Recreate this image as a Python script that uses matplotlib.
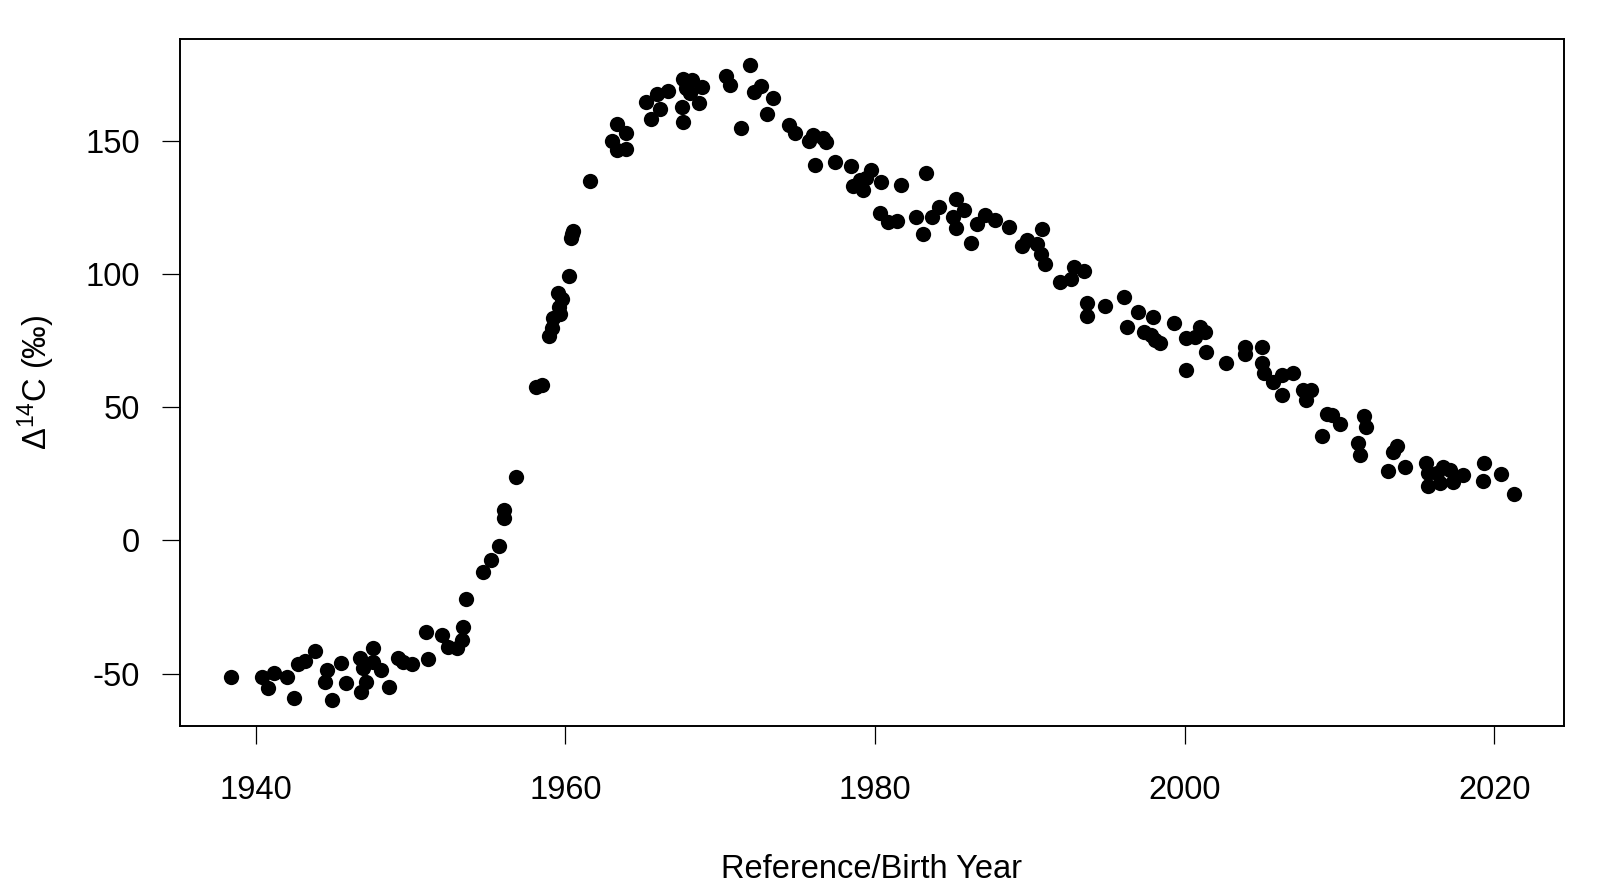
import matplotlib
matplotlib.use("Agg")
import matplotlib.pyplot as plt

plt.rcParams['font.family'] = ['Liberation Sans', 'DejaVu Sans']
plt.rcParams['mathtext.fontset'] = 'custom'
plt.rcParams['mathtext.rm'] = 'Liberation Sans'
plt.rcParams['mathtext.it'] = 'Liberation Sans'
plt.rcParams['mathtext.bf'] = 'Liberation Sans'

years = [
    1938.4, 1940.4, 1940.8, 1941.2, 1942.0, 1942.5, 1942.7, 1943.2, 1943.8, 1944.5,
    1944.6, 1944.9, 1945.5, 1945.8, 1946.7, 1946.8, 1946.9, 1947.1, 1947.6, 1947.6,
    1948.1, 1948.6, 1949.2, 1949.5, 1950.1, 1951.0, 1951.1, 1952.0, 1952.4, 1953.0,
    1953.3, 1953.4, 1953.6, 1954.7, 1955.2, 1955.7, 1956.0, 1956.05, 1956.8, 1958.1,
    1958.5, 1958.95, 1959.1, 1959.2, 1959.5, 1959.6, 1959.65, 1959.8, 1960.2, 1960.35,
    1960.45, 1960.5, 1961.6, 1963.0, 1963.3, 1963.35, 1963.9, 1963.9, 1965.2, 1965.5,
    1965.9, 1966.1, 1966.6, 1967.55, 1967.6, 1967.6, 1967.8, 1968.05, 1968.15, 1968.65,
    1968.85, 1970.35, 1970.6, 1971.35, 1971.95, 1972.15, 1972.65, 1973.0, 1973.4, 1974.45,
    1974.8, 1975.7, 1976.0, 1976.1, 1976.65, 1976.85, 1977.4, 1978.45, 1978.6, 1979.0,
    1979.2, 1979.4, 1979.75, 1980.3, 1980.4, 1980.85, 1981.4, 1981.65, 1982.65, 1983.1,
    1983.3, 1983.7, 1984.15, 1985.0, 1985.2, 1985.2, 1985.75, 1986.2, 1986.6, 1987.1,
    1987.75, 1988.65, 1989.5, 1989.8, 1990.45, 1990.7, 1990.75, 1991.0, 1991.95, 1992.65,
    1992.85, 1993.5, 1993.7, 1993.7, 1994.85, 1996.1, 1996.3, 1997.0, 1997.4, 1997.85,
    1997.95, 1998.05, 1998.4, 1999.3, 2000.1, 2000.1, 2000.65, 2001.0, 2001.3, 2001.4,
    2002.65, 2003.9, 2003.9, 2005.0, 2005.0, 2005.1, 2005.7, 2006.25, 2006.3, 2007.0,
    2007.65, 2007.85, 2008.15, 2008.85, 2009.2, 2009.5, 2010.0, 2011.2, 2011.3, 2011.6,
    2011.7, 2013.1, 2013.45, 2013.7, 2014.2, 2015.6, 2015.7, 2015.7, 2016.3, 2016.5,
    2016.7, 2017.1, 2017.35, 2018.0, 2019.35, 2019.25, 2020.45, 2021.25,
]

delta14c = [
    -51.2, -51.2, -55.6, -49.9, -51.4, -59.3, -46.4, -45.3, -41.5, -53.1,
    -48.7, -60.0, -46.2, -53.7, -44.3, -56.8, -48.0, -53.1, -45.5, -40.5,
    -48.7, -54.9, -44.3, -45.5, -46.4, -34.3, -44.5, -35.5, -39.9, -40.3,
    -37.4, -32.4, -22.1, -11.7, -7.3, -2.0, 11.5, 8.3, 23.7, 57.5,
    58.4, 76.8, 79.7, 83.5, 93.1, 87.8, 85.1, 90.6, 99.4, 113.5,
    115.0, 116.2, 135.2, 150.2, 146.7, 156.5, 153.0, 147.0, 164.8, 158.4,
    167.6, 162.0, 168.9, 163.0, 173.4, 157.3, 169.9, 168.0, 173.0, 164.2,
    170.3, 174.5, 171.2, 154.8, 178.7, 168.6, 170.9, 160.2, 166.2, 156.1,
    153.0, 150.2, 152.3, 141.1, 151.1, 149.8, 142.3, 140.8, 133.2, 135.4,
    131.7, 136.1, 139.2, 122.9, 134.8, 119.8, 120.2, 133.6, 121.4, 115.0,
    138.2, 121.7, 125.2, 121.4, 117.5, 128.2, 124.2, 111.7, 118.9, 122.3,
    120.4, 117.9, 110.8, 112.9, 111.4, 107.7, 116.9, 103.8, 97.2, 98.1,
    102.9, 101.2, 89.3, 84.3, 88.2, 91.6, 80.3, 86.0, 78.5, 77.2,
    84.1, 75.3, 74.3, 81.8, 76.0, 64.0, 76.4, 80.2, 78.5, 70.7,
    66.8, 72.8, 70.0, 72.6, 66.6, 62.8, 59.7, 54.7, 62.2, 62.8,
    56.5, 52.8, 56.5, 39.4, 47.5, 47.3, 43.8, 36.7, 32.1, 46.8,
    42.8, 26.2, 33.3, 35.5, 27.5, 29.2, 25.2, 20.5, 25.2, 21.5,
    27.7, 26.5, 22.1, 24.6, 29.0, 22.3, 24.8, 17.5,
]

x_ticks = [1940, 1960, 1980, 2000, 2020]
y_ticks = [-50, 0, 50, 100, 150]
x_label = "Reference/Birth Year"
y_label = r"$\Delta^{14}$C (‰)"

fig = plt.figure(figsize=(16.05, 8.86), dpi=100)
ax = fig.add_axes([0.1121, 0.1806, 0.8624, 0.7754])

ax.plot(years, delta14c, 'o', color='black', markersize=11, markeredgewidth=0)

ax.set_xlim(1935.1, 2024.5)
ax.set_ylim(-69.7, 188.4)
ax.set_xticks(x_ticks)
ax.set_yticks(y_ticks)
ax.set_xticklabels([str(t) for t in x_ticks])
ax.set_yticklabels([str(t) for t in y_ticks])

for s in ax.spines.values():
    s.set_linewidth(1.4)
    s.set_color('black')

ax.tick_params(axis='both', direction='out', length=13, width=0.9,
               labelsize=23.5, colors='black')
ax.tick_params(axis='x', pad=22)
ax.tick_params(axis='y', pad=16)

ax.set_xlabel(x_label, fontsize=23.5)
ax.set_ylabel(y_label, fontsize=23.5)
ax.xaxis.set_label_coords(0.5, -0.209)
ax.yaxis.set_label_coords(-0.104, 0.5)
ax.xaxis.label.set_va('center')
ax.yaxis.label.set_va('center')

fig.savefig("out.png", dpi=100, facecolor='white')
